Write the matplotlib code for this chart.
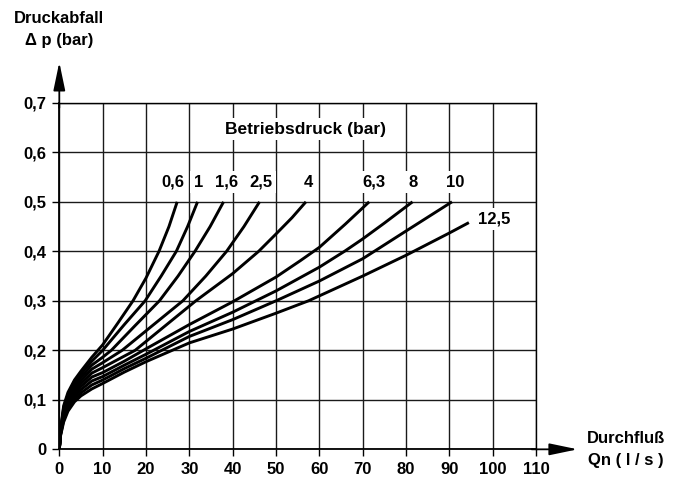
import matplotlib.pyplot as plt

plt.rcParams['font.family'] = ['Liberation Sans', 'DejaVu Sans']
plt.rcParams['font.weight'] = 'bold'

# ── Data: pressure drop (bar) over flow Qn (l/s), per operating pressure ──────
q_06 = [0, 0.3, 1, 2, 3.5, 5, 7.5, 10, 13.5, 17, 20, 23, 25.3, 27.2]
dp_06 = [0, 0.040, 0.088, 0.115, 0.140, 0.158, 0.186, 0.211, 0.255, 0.300,
         0.346, 0.400, 0.450, 0.500]

q_1 = [0, 0.3, 1, 2, 3.5, 5, 7.5, 10, 15, 19.8, 23.5, 27, 29.6, 31.9]
dp_1 = [0, 0.0385, 0.084, 0.110, 0.1345, 0.152, 0.178, 0.200, 0.252, 0.300,
        0.350, 0.400, 0.450, 0.500]

q_16 = [0, 0.3, 1, 2, 3.5, 5, 7.5, 10, 12, 17.5, 23.1, 27.4, 31.3, 34.8, 37.9]
dp_16 = [0, 0.037, 0.080, 0.1055, 0.129, 0.1455, 0.170, 0.186, 0.200, 0.250,
         0.300, 0.350, 0.400, 0.450, 0.500]

q_25 = [0, 0.3, 1, 2, 3.5, 5, 7.5, 10, 14.5, 21.5, 28.5, 33.8, 38.6, 42.6, 46.2]
dp_25 = [0, 0.0355, 0.0756, 0.1008, 0.1235, 0.139, 0.162, 0.175, 0.200, 0.250,
         0.300, 0.350, 0.400, 0.450, 0.500]

q_4 = [0, 0.3, 1, 2, 3.5, 5, 7.5, 10, 17.5, 24.5, 31.5, 40, 46, 50, 53.7, 56.9]
dp_4 = [0, 0.034, 0.0715, 0.096, 0.118, 0.133, 0.154, 0.165, 0.200, 0.250,
        0.300, 0.355, 0.400, 0.435, 0.468, 0.500]

q_63 = [0, 0.3, 1, 2, 3.5, 5, 7.5, 10, 15, 20, 30, 40, 50, 55.6, 60, 66, 71.5]
dp_63 = [0, 0.0325, 0.0674, 0.0913, 0.1125, 0.127, 0.146, 0.155, 0.178, 0.203,
         0.252, 0.298, 0.348, 0.381, 0.408, 0.455, 0.500]

q_8 = [0, 0.3, 1, 2, 3.5, 5, 7.5, 10, 15, 20, 30, 40, 50, 60, 65.8, 70, 75, 81.5]
dp_8 = [0, 0.031, 0.063, 0.0865, 0.107, 0.1205, 0.138, 0.147, 0.170, 0.192,
        0.238, 0.277, 0.320, 0.368, 0.400, 0.425, 0.457, 0.500]

q_10 = [0, 0.3, 1, 2, 3.5, 5, 7.5, 10, 15, 20, 30, 40, 50, 60, 70, 80, 90.6]
dp_10 = [0, 0.0295, 0.059, 0.082, 0.1015, 0.114, 0.130, 0.140, 0.163, 0.184,
         0.228, 0.262, 0.300, 0.340, 0.385, 0.441, 0.500]

q_125 = [0, 0.3, 1, 2, 3.5, 5, 7.5, 10, 15, 20, 30, 40, 50, 57.5, 60, 70, 80,
         90, 94.5]
dp_125 = [0, 0.028, 0.055, 0.077, 0.096, 0.108, 0.122, 0.133, 0.156, 0.177,
          0.215, 0.243, 0.275, 0.300, 0.310, 0.350, 0.392, 0.437, 0.458]

curve_labels = ["0,6", "1", "1,6", "2,5", "4", "6,3", "8", "10", "12,5"]
label_x = [26.2, 32.1, 38.7, 46.6, 57.4, 72.5, 81.7, 91.3, 100.4]
label_y = [0.54, 0.54, 0.54, 0.54, 0.54, 0.54, 0.54, 0.54, 0.465]

x_ticks = list(range(0, 111, 10))
y_ticks = [0, 0.1, 0.2, 0.3, 0.4, 0.5, 0.6, 0.7]
y_ticklabels = ["0", "0,1", "0,2", "0,3", "0,4", "0,5", "0,6", "0,7"]

curves = [(q_06, dp_06), (q_1, dp_1), (q_16, dp_16), (q_25, dp_25),
          (q_4, dp_4), (q_63, dp_63), (q_8, dp_8), (q_10, dp_10),
          (q_125, dp_125)]

FS = 12

# ── Figure ────────────────────────────────────────────────────────────────────
fig = plt.figure(figsize=(6.84, 4.82), dpi=100)
ax = fig.add_axes([0.0867, 0.0678, 0.697, 0.7189])
ax.set_xlim(0, 110)
ax.set_ylim(0, 0.7)

ax.set_xticks(x_ticks)
ax.set_yticks(y_ticks)
ax.set_yticklabels(y_ticklabels)
ax.tick_params(axis="both", length=5, width=1.0, pad=4, labelsize=FS,
               direction="out")
for lbl in ax.get_xticklabels() + ax.get_yticklabels():
    lbl.set_fontweight("bold")

ax.grid(True, color="#1a1a1a", lw=1.0, zorder=1)
ax.set_axisbelow(True)
for side, sp in ax.spines.items():
    sp.set_linewidth(1.3 if side in ("left", "bottom") else 1.0)
    sp.set_color("black")

for q, dp in curves:
    ax.plot(q, dp, color="black", lw=2.1, solid_capstyle="butt",
            solid_joinstyle="round", zorder=3)

box = dict(boxstyle="square,pad=0.2", fc="white", ec="none")
for txt, lx, ly in zip(curve_labels, label_x, label_y):
    ax.text(lx, ly, txt, ha="center", va="center", fontsize=FS,
            fontweight="bold", bbox=box, zorder=4)
ax.text(56.7, 0.647, "Betriebsdruck (bar)", ha="center", va="center",
        fontsize=12.5, fontweight="bold", bbox=box, zorder=4)

# axis arrows
arrow = dict(arrowstyle="-|>,head_length=1.15,head_width=0.24",
             mutation_scale=15, lw=1.3, color="black",
             shrinkA=0, shrinkB=0)
ax.annotate("", xy=(0, 0.782), xytext=(0, 0.69), xycoords="data",
            arrowprops=arrow, annotation_clip=False)
ax.annotate("", xy=(119.6, 0), xytext=(109, 0), xycoords="data",
            arrowprops=arrow, annotation_clip=False)

# axis titles
fig.text(59.3 / 684, 1 - 23 / 482, "Druckabfall", ha="center",
         va="baseline", fontsize=FS, fontweight="bold")
fig.text(59.3 / 684, 1 - 45 / 482, "\u0394 p (bar)", ha="center",
         va="baseline", fontsize=FS, fontweight="bold")
fig.text(626 / 684, 1 - 443 / 482, "Durchflu\u00df", ha="center",
         va="baseline", fontsize=FS, fontweight="bold")
fig.text(626 / 684, 1 - 465 / 482, "Qn ( l / s )", ha="center",
         va="baseline", fontsize=FS, fontweight="bold")

fig.savefig("out.png", dpi=100)
